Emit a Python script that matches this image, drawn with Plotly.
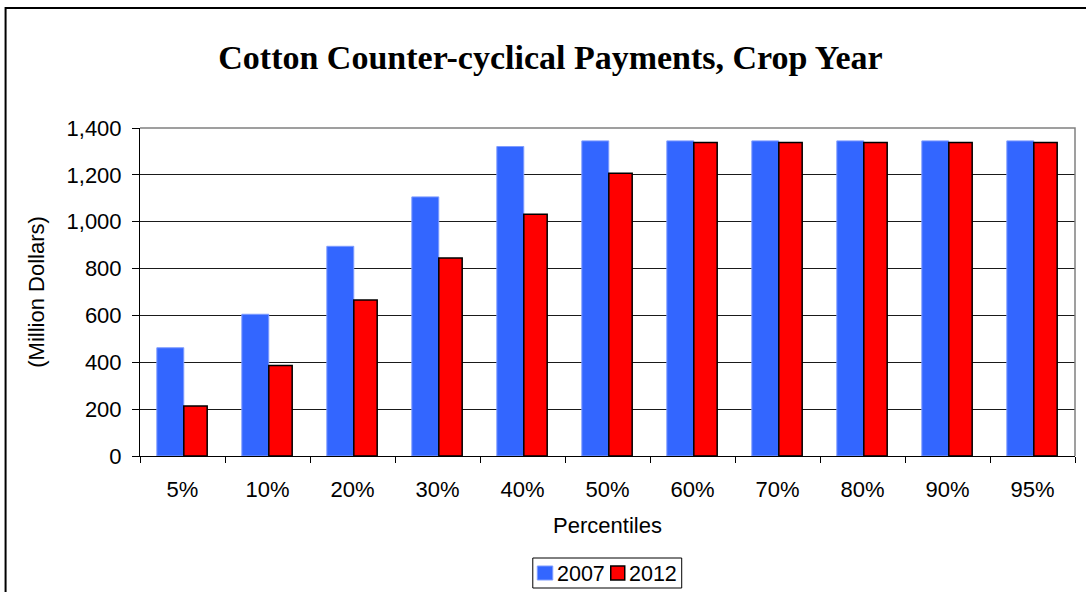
import plotly.graph_objects as go

categories = ["5%", "10%", "20%", "30%", "40%", "50%", "60%", "70%", "80%", "90%", "95%"]
values_2007 = [462, 605, 895, 1106, 1321, 1345, 1345, 1345, 1345, 1345, 1345]
values_2012 = [213, 386, 666, 845, 1032, 1207, 1338, 1338, 1338, 1338, 1338]
series_names = ["2007", "2012"]
y_ticks = [0, 200, 400, 600, 800, 1000, 1200, 1400]

BLUE = "#3366FF"
RED = "#FF0000"

W, H = 1086, 592
L, R, T, B = 140, 10.5, 128, 136
pw = W - L - R
ph = H - T - B


def px_x(p):
    return (p - L) / pw


def px_y(p):
    return (H - B - p) / ph


fig = go.Figure()
fig.add_trace(go.Bar(
    x=categories, y=values_2007, name=series_names[0],
    offset=-0.302, width=0.317,
    marker=dict(color=BLUE, line=dict(color="#7F9CFF", width=1)),
))
fig.add_trace(go.Bar(
    x=categories, y=values_2012, name=series_names[1],
    offset=0.0153, width=0.275,
    marker=dict(color=RED, line=dict(color="#000000", width=1.5)),
))

# outer chart frame (top and left)
fig.add_shape(type="path", xref="paper", yref="paper",
              path=f"M {px_x(5.5)},{px_y(700)} L {px_x(5.5)},{px_y(8)} L {px_x(1200)},{px_y(8)}",
              line=dict(color="black", width=2), layer="above")
# plot-area border (top and right, gray)
fig.add_shape(type="path", xref="paper", yref="paper",
              path="M 0,1 L 1,1 L 1,0",
              line=dict(color="#808080", width=1.5), layer="above")

# legend (drawn)
fig.add_shape(type="rect", xref="paper", yref="paper",
              x0=px_x(533), x1=px_x(682), y0=px_y(588), y1=px_y(558),
              line=dict(color="black", width=1), fillcolor="white", layer="above")
fig.add_shape(type="rect", xref="paper", yref="paper",
              x0=px_x(537.5), x1=px_x(553), y0=px_y(580), y1=px_y(566),
              line=dict(color="#7F9CFF", width=1), fillcolor=BLUE, layer="above")
fig.add_shape(type="rect", xref="paper", yref="paper",
              x0=px_x(611), x1=px_x(625), y0=px_y(580), y1=px_y(566),
              line=dict(color="black", width=1.5), fillcolor=RED, layer="above")
fig.add_annotation(xref="paper", yref="paper", x=px_x(555.5), y=px_y(573.5),
                   xanchor="left", yanchor="middle", showarrow=False,
                   text=series_names[0], font=dict(size=21.5, color="black"))
fig.add_annotation(xref="paper", yref="paper", x=px_x(627.5), y=px_y(573.5),
                   xanchor="left", yanchor="middle", showarrow=False,
                   text=series_names[1], font=dict(size=21.5, color="black"))

fig.update_layout(
    width=W, height=H,
    margin=dict(l=L, r=R, t=T, b=B, autoexpand=False),
    paper_bgcolor="white", plot_bgcolor="white",
    font=dict(family="Liberation Sans, Arial, sans-serif", size=22, color="black"),
    title=dict(text="<b>Cotton Counter-cyclical Payments, Crop Year</b>",
               font=dict(family="Liberation Serif, Times New Roman, serif", size=34, color="black"),
               x=550.5 / W, xref="container", xanchor="center",
               y=1 - 57 / H, yref="container", yanchor="middle"),
    barmode="overlay",
    showlegend=False,
    xaxis=dict(
        type="category", showline=True, linecolor="black", linewidth=1,
        ticks="outside", ticklen=6, tickcolor="black", tickson="boundaries",
        showgrid=False, ticklabelstandoff=14,
        title=dict(text="Percentiles", standoff=16, font=dict(size=22)),
    ),
    yaxis=dict(
        range=[0, 1400], tickvals=y_ticks, tickformat=",d",
        showline=True, linecolor="black", linewidth=1,
        ticks="outside", ticklen=7, tickcolor="black",
        showgrid=True, gridcolor="#1a1a1a", gridwidth=1, zeroline=False,
        ticklabelstandoff=6,
        title=dict(text="(Million Dollars)", standoff=15, font=dict(size=22)),
    ),
)

fig.write_html("out.html", config={"displayModeBar": False},
               post_script="document.body.style.margin='0px';document.body.style.overflow='hidden';")
